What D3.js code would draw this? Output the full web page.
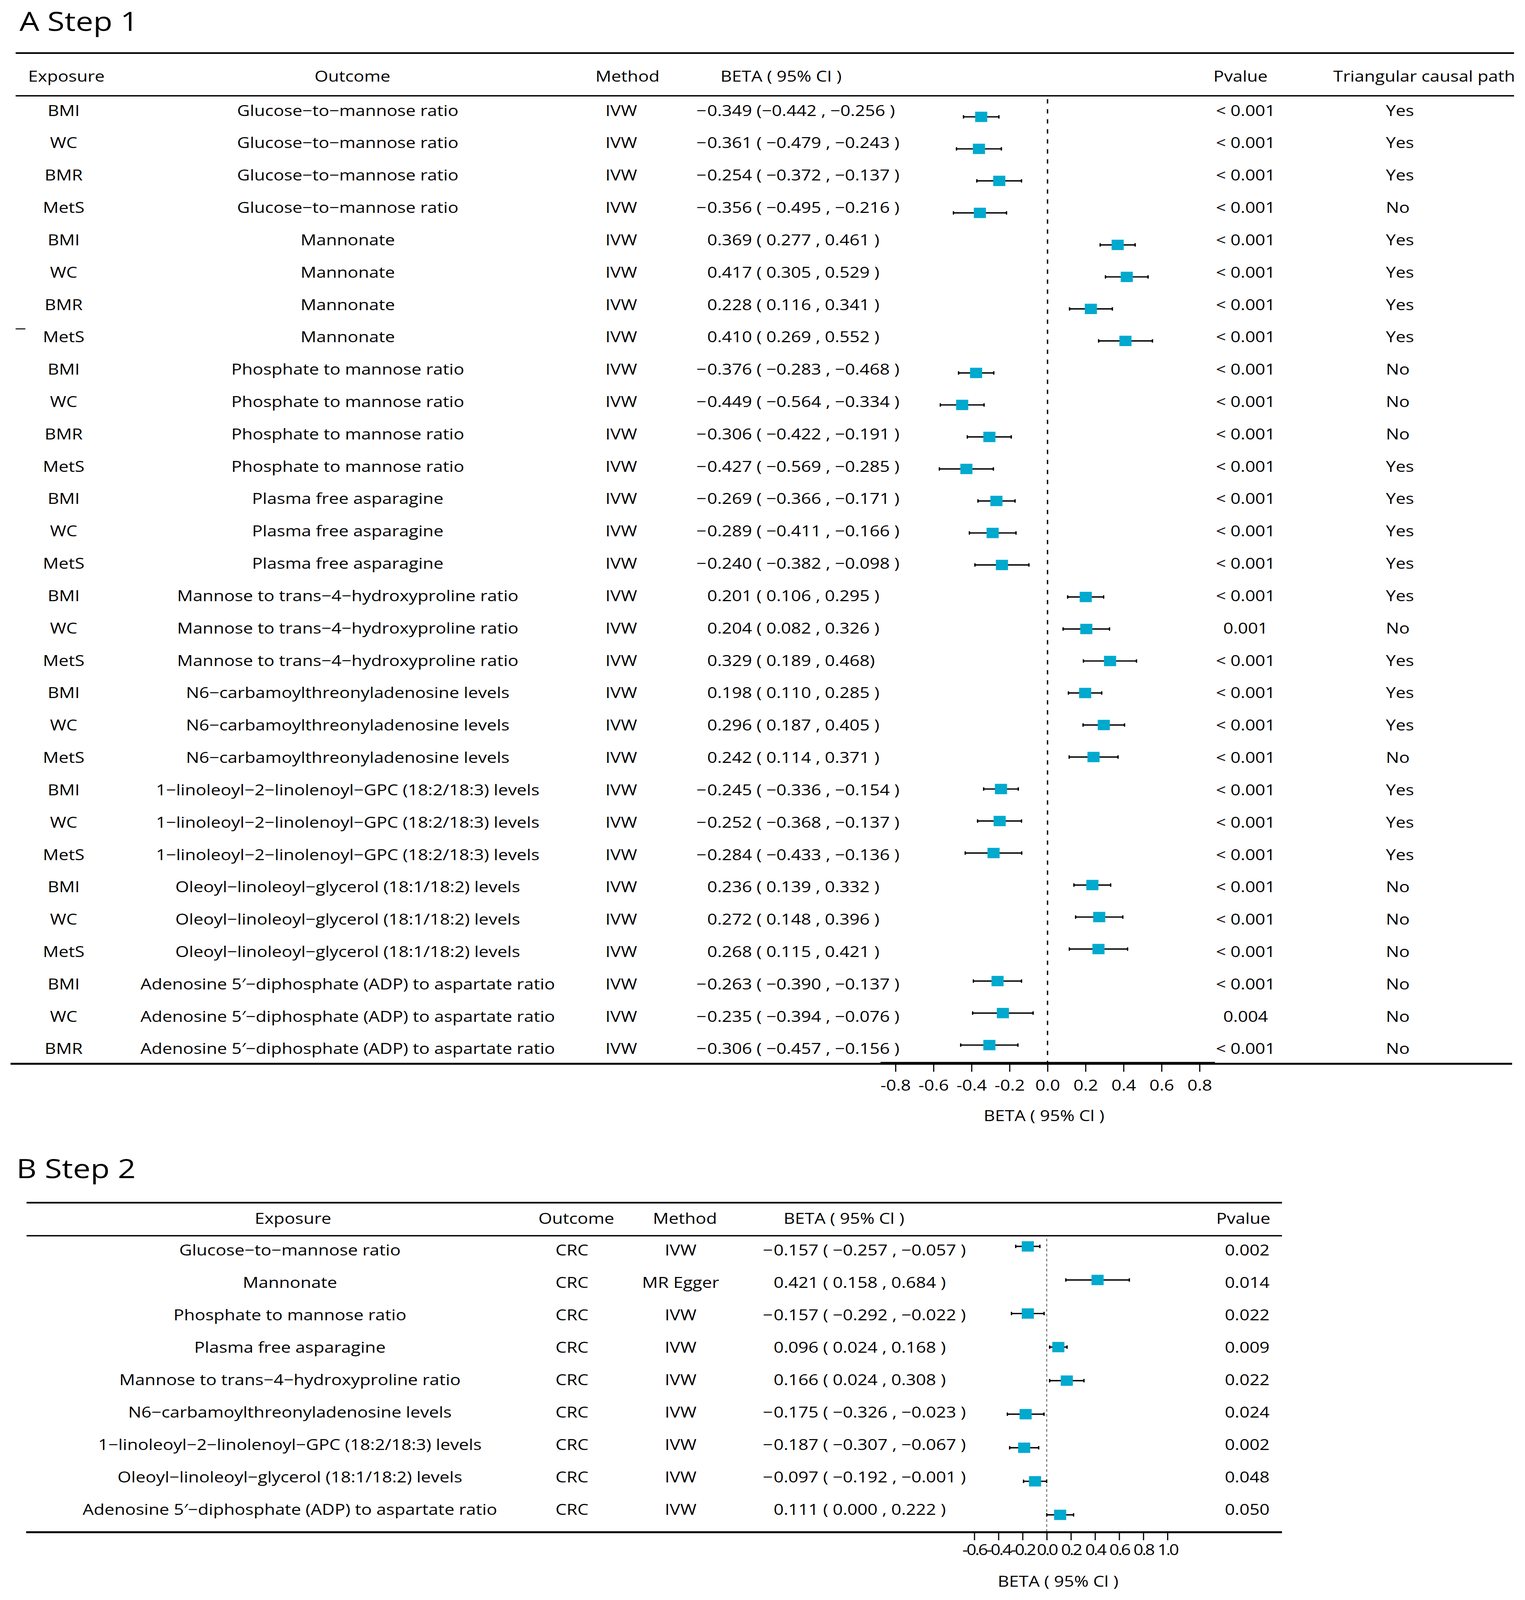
<!DOCTYPE html>
<html>
<head>
<meta charset="utf-8">
<script src="https://cdn.jsdelivr.net/npm/d3@7"></script>
<style>
  html, body { margin: 0; padding: 0; background: #fff; overflow: hidden; }
  svg { display: block; }
  text { font-family: 'Open Sans', sans-serif; fill: #000; }
</style>
</head>
<body>
<div id="chart"></div>
<script>
/* --------------------- Panel A data ---------------------- */
const exposureA = ['BMI', 'WC', 'BMR', 'MetS', 'BMI', 'WC', 'BMR', 'MetS', 'BMI', 'WC', 'BMR', 'MetS',
	'BMI', 'WC', 'MetS', 'BMI', 'WC', 'MetS', 'BMI', 'WC', 'MetS', 'BMI', 'WC', 'MetS',
	'BMI', 'WC', 'MetS', 'BMI', 'WC', 'BMR'];
const outcomeA = [
	'Glucose−to−mannose ratio', 'Glucose−to−mannose ratio', 'Glucose−to−mannose ratio', 'Glucose−to−mannose ratio',
	'Mannonate', 'Mannonate', 'Mannonate', 'Mannonate',
	'Phosphate to mannose ratio', 'Phosphate to mannose ratio', 'Phosphate to mannose ratio', 'Phosphate to mannose ratio',
	'Plasma free asparagine', 'Plasma free asparagine', 'Plasma free asparagine',
	'Mannose to trans−4−hydroxyproline ratio', 'Mannose to trans−4−hydroxyproline ratio', 'Mannose to trans−4−hydroxyproline ratio',
	'N6−carbamoylthreonyladenosine levels', 'N6−carbamoylthreonyladenosine levels', 'N6−carbamoylthreonyladenosine levels',
	'1−linoleoyl−2−linolenoyl−GPC (18:2/18:3) levels', '1−linoleoyl−2−linolenoyl−GPC (18:2/18:3) levels', '1−linoleoyl−2−linolenoyl−GPC (18:2/18:3) levels',
	'Oleoyl−linoleoyl−glycerol (18:1/18:2) levels', 'Oleoyl−linoleoyl−glycerol (18:1/18:2) levels', 'Oleoyl−linoleoyl−glycerol (18:1/18:2) levels',
	'Adenosine 5′−diphosphate (ADP) to aspartate ratio', 'Adenosine 5′−diphosphate (ADP) to aspartate ratio', 'Adenosine 5′−diphosphate (ADP) to aspartate ratio'];
const methodA = Array(30).fill('IVW');
const betaA = [-0.349, -0.361, -0.254, -0.356, 0.369, 0.417, 0.228, 0.410, -0.376, -0.449, -0.306, -0.427,
	-0.269, -0.289, -0.240, 0.201, 0.204, 0.329, 0.198, 0.296, 0.242, -0.245, -0.252, -0.284,
	0.236, 0.272, 0.268, -0.263, -0.235, -0.306];
const ciLowA = [-0.442, -0.479, -0.372, -0.495, 0.277, 0.305, 0.116, 0.269, -0.283, -0.564, -0.422, -0.569,
	-0.366, -0.411, -0.382, 0.106, 0.082, 0.189, 0.110, 0.187, 0.114, -0.336, -0.368, -0.433,
	0.139, 0.148, 0.115, -0.390, -0.394, -0.457];
const ciHighA = [-0.256, -0.243, -0.137, -0.216, 0.461, 0.529, 0.341, 0.552, -0.468, -0.334, -0.191, -0.285,
	-0.171, -0.166, -0.098, 0.295, 0.326, 0.468, 0.285, 0.405, 0.371, -0.154, -0.137, -0.136,
	0.332, 0.396, 0.421, -0.137, -0.076, -0.156];
const betaTextA = [
	'−0.349 (−0.442 , −0.256 )', '−0.361 ( −0.479 , −0.243 )', '−0.254 ( −0.372 , −0.137 )', '−0.356 ( −0.495 , −0.216 )',
	'0.369 ( 0.277 , 0.461 )', '0.417 ( 0.305 , 0.529 )', '0.228 ( 0.116 , 0.341 )', '0.410 ( 0.269 , 0.552 )',
	'−0.376 ( −0.283 , −0.468 )', '−0.449 ( −0.564 , −0.334 )', '−0.306 ( −0.422 , −0.191 )', '−0.427 ( −0.569 , −0.285 )',
	'−0.269 ( −0.366 , −0.171 )', '−0.289 ( −0.411 , −0.166 )', '−0.240 ( −0.382 , −0.098 )',
	'0.201 ( 0.106 , 0.295 )', '0.204 ( 0.082 , 0.326 )', '0.329 ( 0.189 , 0.468)',
	'0.198 ( 0.110 , 0.285 )', '0.296 ( 0.187 , 0.405 )', '0.242 ( 0.114 , 0.371 )',
	'−0.245 ( −0.336 , −0.154 )', '−0.252 ( −0.368 , −0.137 )', '−0.284 ( −0.433 , −0.136 )',
	'0.236 ( 0.139 , 0.332 )', '0.272 ( 0.148 , 0.396 )', '0.268 ( 0.115 , 0.421 )',
	'−0.263 ( −0.390 , −0.137 )', '−0.235 ( −0.394 , −0.076 )', '−0.306 ( −0.457 , −0.156 )'];
const pvalueA = Array(30).fill('< 0.001');
pvalueA[16] = '0.001';
pvalueA[28] = '0.004';
const triangularA = ['Yes', 'Yes', 'Yes', 'No', 'Yes', 'Yes', 'Yes', 'Yes', 'No', 'No', 'No', 'Yes',
	'Yes', 'Yes', 'Yes', 'Yes', 'No', 'Yes', 'Yes', 'Yes', 'No', 'Yes', 'Yes', 'Yes',
	'No', 'No', 'No', 'No', 'No', 'No'];
const ticksA = [-0.8, -0.6, -0.4, -0.2, 0.0, 0.2, 0.4, 0.6, 0.8];
const tickLabelsA = ['-0.8', '-0.6', '-0.4', '-0.2', '0.0', '0.2', '0.4', '0.6', '0.8'];

/* --------------------- Panel B data ---------------------- */
const exposureB = ['Glucose−to−mannose ratio', 'Mannonate', 'Phosphate to mannose ratio', 'Plasma free asparagine',
	'Mannose to trans−4−hydroxyproline ratio', 'N6−carbamoylthreonyladenosine levels',
	'1−linoleoyl−2−linolenoyl−GPC (18:2/18:3) levels', 'Oleoyl−linoleoyl−glycerol (18:1/18:2) levels',
	'Adenosine 5′−diphosphate (ADP) to aspartate ratio'];
const outcomeB = Array(9).fill('CRC');
const methodB = ['IVW', 'MR Egger', 'IVW', 'IVW', 'IVW', 'IVW', 'IVW', 'IVW', 'IVW'];
const betaB = [-0.157, 0.421, -0.157, 0.096, 0.166, -0.175, -0.187, -0.097, 0.111];
const ciLowB = [-0.257, 0.158, -0.292, 0.024, 0.024, -0.326, -0.307, -0.192, 0.000];
const ciHighB = [-0.057, 0.684, -0.022, 0.168, 0.308, -0.023, -0.067, -0.001, 0.222];
const betaTextB = ['−0.157 ( −0.257 , −0.057 )', '0.421 ( 0.158 , 0.684 )', '−0.157 ( −0.292 , −0.022 )',
	'0.096 ( 0.024 , 0.168 )', '0.166 ( 0.024 , 0.308 )', '−0.175 ( −0.326 , −0.023 )',
	'−0.187 ( −0.307 , −0.067 )', '−0.097 ( −0.192 , −0.001 )', '0.111 ( 0.000 , 0.222 )'];
const pvalueB = ['0.002', '0.014', '0.022', '0.009', '0.022', '0.024', '0.002', '0.048', '0.050'];
const ticksB = [-0.6, -0.4, -0.2, 0.0, 0.2, 0.4, 0.6, 0.8, 1.0];
const tickLabelsB = ['-0.6', '-0.4', '-0.2', '0.0', '0.2', '0.4', '0.6', '0.8', '1.0'];

/* --------------------- drawing ---------------------- */
const W = 3903, H = 4792;
const BOX = '#00A9CE';
const FS = 45;

// the figure is laid out on a 3903 x 4792 grid and fitted to whatever window we get
let svg = d3.select('#chart').append('svg')
	.attr('width', window.innerWidth || W)
	.attr('height', window.innerHeight || H)
	.attr('viewBox', '0 0 ' + W + ' ' + H)
	.attr('preserveAspectRatio', 'none');
svg.append('rect').attr('width', W).attr('height', H).attr('fill', '#fff');

function hline(x1, x2, y, w) {
	svg.append('line')
		.attr('x1', x1).attr('x2', x2)
		.attr('y1', y).attr('y2', y)
		.attr('stroke', '#000')
		.attr('stroke-width', w);
}

function label(x, y, str, anchor, size) {
	return svg.append('text')
		.attr('x', x).attr('y', y)
		.attr('text-anchor', anchor || 'middle')
		.attr('font-size', size || FS)
		.text(str);
}

// numbers column: digits line up, a leading minus hangs to the left
function betaLabel(x, y, str) {
	if (str[0] === '−') {
		label(x - 2, y, '−', 'end');
		label(x, y, str.slice(1), 'start');
	} else {
		label(x, y, str, 'start');
	}
}

// draws one forest panel: box + whiskers + caps
function forest(rows, x, yMark, beta, lo, hi, box, capH) {
	let g = svg.append('g');
	let n = g.selectAll('g').data(rows).enter().append('g');
	n.append('line')
		.attr('x1', i => x(Math.min(lo[i], hi[i])))
		.attr('x2', i => x(Math.max(lo[i], hi[i])))
		.attr('y1', i => yMark(i)).attr('y2', i => yMark(i))
		.attr('stroke', '#000').attr('stroke-width', 4);
	[lo, hi].forEach(arr => {
		n.append('line')
			.attr('x1', i => x(arr[i])).attr('x2', i => x(arr[i]))
			.attr('y1', i => yMark(i) - capH / 2).attr('y2', i => yMark(i) + capH / 2)
			.attr('stroke', '#000').attr('stroke-width', 3.5);
	});
	n.append('rect')
		.attr('x', i => x(beta[i]) - box / 2)
		.attr('y', i => yMark(i) - box / 2)
		.attr('width', box).attr('height', box)
		.attr('fill', BOX);
}

/* ---------- Panel A ---------- */
const nA = betaA.length;
const rowsA = d3.range(nA);
let xA = d3.scaleLinear().domain([-0.88, 0.88]).range([2253, 3109]);
let yTextA = d3.scaleLinear().domain([0, nA - 1]).range([347, 3157]);
let yMarkA = d3.scaleLinear().domain([0, nA - 1]).range([350, 3130]);

label(50, 93, 'A Step 1', 'start', 80);
hline(40, 3875, 159, 5);
hline(40, 3875, 287, 4);
hline(27, 3870, 3186, 6);

label(170, 245, 'Exposure');
label(902, 245, 'Outcome');
label(1606, 245, 'Method');
label(1999, 245, 'BETA ( 95% CI )');
label(3175, 245, 'Pvalue');
label(3645, 245, 'Triangular causal path');

rowsA.forEach(i => {
	let y = yTextA(i);
	label(163, y, exposureA[i]);
	label(890, y, outcomeA[i]);
	label(1590, y, methodA[i]);
	betaLabel(1810, y, betaTextA[i]);
	label(3188, y, pvalueA[i]);
	label(3547, y, triangularA[i], 'start');
});

// stray mark at the left edge of the original figure
svg.append('line').attr('x1', 40).attr('x2', 65).attr('y1', 985).attr('y2', 985)
	.attr('stroke', '#000').attr('stroke-width', 3);

// null line
svg.append('line')
	.attr('x1', xA(0)).attr('x2', xA(0))
	.attr('y1', 297).attr('y2', 3183)
	.attr('stroke', '#000').attr('stroke-width', 3.4)
	.attr('stroke-dasharray', '13,17');

forest(rowsA, xA, yMarkA, betaA, ciLowA, ciHighA, 31, 10);

let axisA = svg.append('g')
	.attr('transform', 'translate(0,3182)')
	.call(d3.axisBottom(xA).tickValues(ticksA)
		.tickFormat((d, i) => tickLabelsA[i])
		.tickSize(28).tickSizeOuter(0));
axisA.select('.domain').attr('stroke-width', 4);
axisA.selectAll('.tick line').attr('stroke-width', 3);
axisA.selectAll('.tick text')
	.attr('dy', null).attr('y', 85)
	.attr('font-size', FS).attr('font-family', null);
label(2672, 3358, 'BETA ( 95% Cl )');

/* ---------- Panel B ---------- */
const nB = betaB.length;
const rowsB = d3.range(nB);
let xB = d3.scaleLinear().domain([0, 1]).range([2679, 2988]);
let yTextB = d3.scaleLinear().domain([0, nB - 1]).range([3760, 4537]);
let yMarkB = d3.scaleLinear().domain([0, nB - 1]).range([3733, 4537]);

label(42, 3528, 'B Step 2', 'start', 80);
hline(68, 3281, 3602, 5);
hline(68, 3281, 3701, 4);
hline(67, 3281, 4589, 6);

label(750, 3665, 'Exposure');
label(1475, 3665, 'Outcome');
label(1753, 3665, 'Method');
label(2160, 3665, 'BETA ( 95% Cl )');
label(3182, 3665, 'Pvalue');

rowsB.forEach(i => {
	let y = yTextB(i);
	label(742, y, exposureB[i]);
	label(1464, y, outcomeB[i]);
	label(1742, y, methodB[i]);
	betaLabel(1980, y, betaTextB[i]);
	label(3192, y, pvalueB[i]);
});

svg.append('line')
	.attr('x1', xB(0)).attr('x2', xB(0))
	.attr('y1', 3710).attr('y2', 4586)
	.attr('stroke', '#555').attr('stroke-width', 2)
	.attr('stroke-dasharray', '8,7');

forest(rowsB, xB, yMarkB, betaB, ciLowB, ciHighB, 31, 10);

// tick labels sit shoulder to shoulder here, as in the source figure
let axisB = svg.append('g')
	.attr('transform', 'translate(0,4589)')
	.call(d3.axisBottom(xB).tickValues(ticksB)
		.tickFormat((d, i) => tickLabelsB[i])
		.tickSize(24).tickSizeOuter(0));
axisB.select('.domain').remove();
axisB.selectAll('.tick line').attr('stroke-width', 3);
axisB.selectAll('.tick text')
	.attr('dy', null).attr('y', 69)
	.attr('font-size', 44).attr('letter-spacing', -3.5).attr('font-family', null);
label(2708, 4752, 'BETA ( 95% Cl )');
</script>
</body>
</html>
